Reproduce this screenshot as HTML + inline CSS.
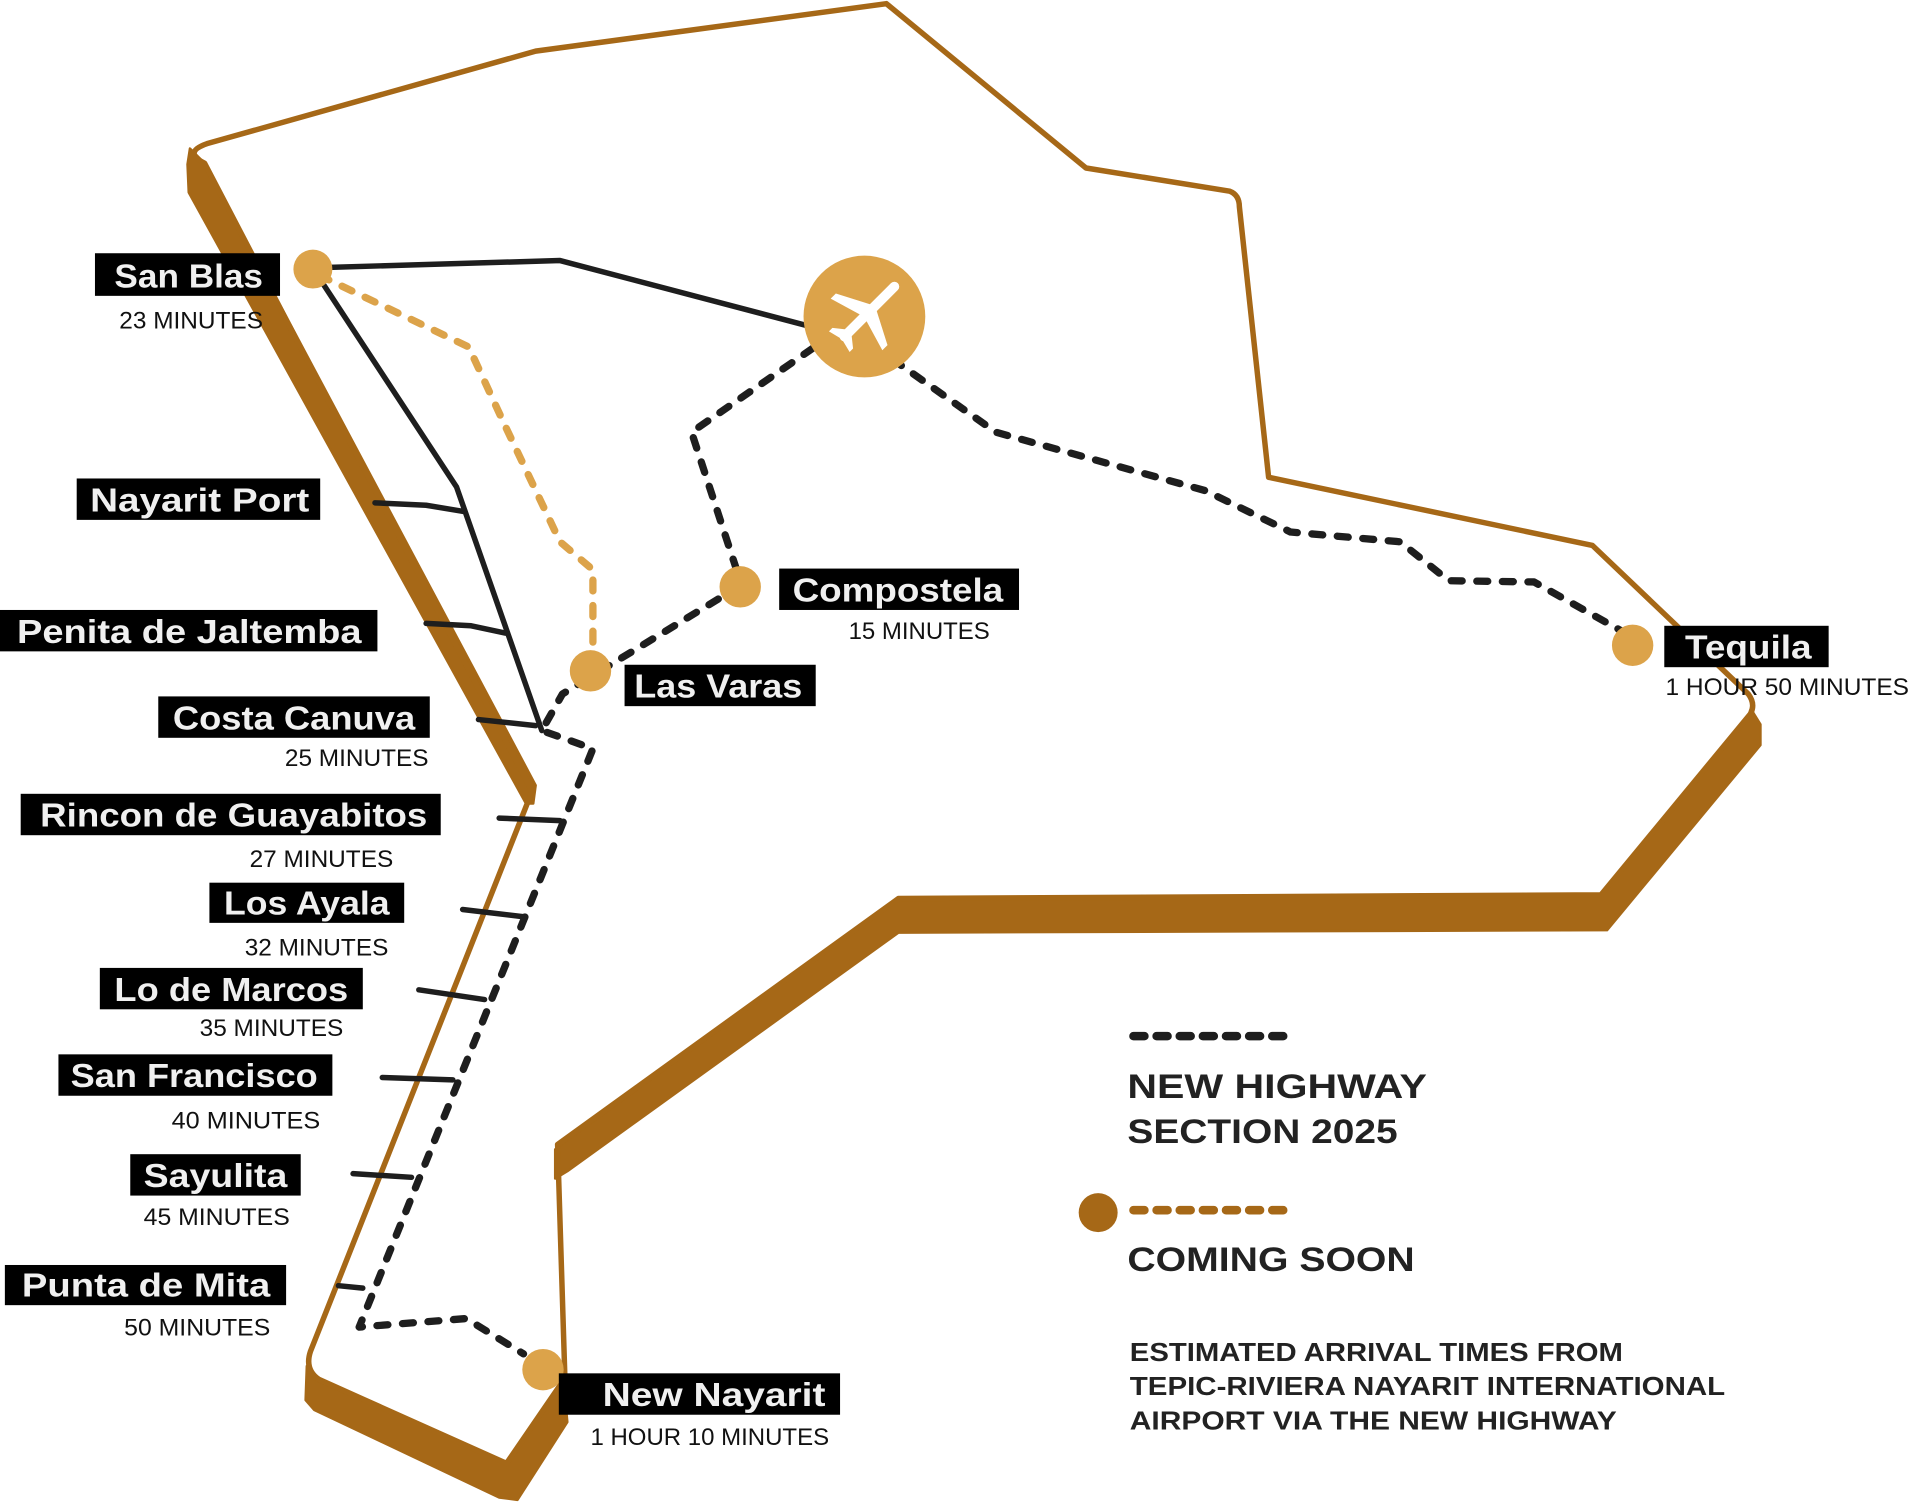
<!DOCTYPE html>
<html><head><meta charset="utf-8"><style>
html,body{margin:0;padding:0;background:#fff;}
svg{display:block;}
.lb{font-family:"Liberation Sans",sans-serif;font-weight:bold;fill:#f0f0f0;font-size:27px;}
.sm{font-family:"Liberation Sans",sans-serif;fill:#111;font-size:19.5px;}
.lg{font-family:"Liberation Sans",sans-serif;font-weight:bold;fill:#222;}
</style></head><body>
<svg width="1909" height="1503" viewBox="0 0 1568 1234.5" preserveAspectRatio="none" xmlns="http://www.w3.org/2000/svg">
<g fill="#A66817" stroke="#A66817" stroke-width="2" stroke-linejoin="round">
<polygon points="156,122 168,134 440,645 438,660 432,660 155,158 154,135"/>
<polygon points="1438,582 1446,595 1446,612 1320,764 738,766 466,962 456,968 456,944 738,738 1315,735 1436,588"/>
<polygon points="252,1122 258,1133 416,1202 463,1135 466,1168 425,1232 410,1230 258,1158 251,1150"/>
</g>
<path d="M170,118 L440,42 L728,3 L892,138 L1010,157 Q1018,160 1018,170 L1042,392 L1308,448 L1436,570 Q1442,578 1438,586 L1315,735 L738,738 L458,940 L464,1132 L416,1202 L262,1133 Q250,1125 255,1110 L437,650 L168,134 Q150,125 170,118 Z" fill="none" stroke="#A66817" stroke-width="4.5" stroke-linejoin="round"/>
<!-- black solid lines -->
<g fill="none" stroke="#1e1e1e" stroke-width="4.5" stroke-linecap="round" stroke-linejoin="round">
<path d="M257,220 L460,214 L665,268"/>
<path d="M262,228 L375,400 L445,600"/>
<path d="M308,413 L350,415 L380,420"/>
<path d="M350,512 L387,514 L415,520"/>
<path d="M393,591 L440,596"/>
<path d="M410,672 L460,674"/>
<path d="M380,747 L430,753"/>
<path d="M344,813 L398,821"/>
<path d="M314,885 L372,887"/>
<path d="M290,964 L338,967"/>
<path d="M278,1056 L298,1058"/>
</g>
<path d="M262,226 L385,285 L415,350 L460,445 L487,468 L487,545" fill="none" stroke="#DCA34A" stroke-width="6" stroke-dasharray="9 12" stroke-linecap="round"/>
<g fill="none" stroke="#1e1e1e" stroke-width="6" stroke-dasharray="9 12" stroke-linecap="round" stroke-linejoin="round">
<path d="M685,274 L568,355 L605,468"/>
<path d="M590,492 L462,570 L445,600 L487,615 L295,1090 L383,1083 L430,1112"/>
<path d="M733,295 L818,355 L990,403 L1060,437 L1150,445 L1190,477 L1260,478 L1335,520"/>
</g>
<g fill="#DCA34A">
<circle cx="257" cy="221" r="16"/>
<circle cx="608" cy="482" r="17"/>
<circle cx="485" cy="551" r="17"/>
<circle cx="1341" cy="530" r="17"/>
<circle cx="446" cy="1125" r="17"/>
<circle cx="710" cy="260" r="50"/>
</g>
<g transform="translate(712,258) rotate(45)" fill="#fff">
<rect x="-4" y="-36" width="8" height="66" rx="4"/>
<polygon points="-3,-8 -30,6 -30,12 -3,4"/>
<polygon points="3,-8 30,6 30,12 3,4"/>
<polygon points="-2,20 -12,28 -12,32 0,29 12,32 12,28 2,20"/>
</g>
<g>
<rect x="78" y="208" width="152" height="35" fill="#000"/><text class="lb" x="94" y="236" textLength="122" lengthAdjust="spacingAndGlyphs">San Blas</text>
<rect x="63" y="393" width="200" height="34" fill="#000"/><text class="lb" x="74" y="420" textLength="180" lengthAdjust="spacingAndGlyphs">Nayarit Port</text>
<rect x="0" y="501" width="310" height="34" fill="#000"/><text class="lb" x="14" y="528" textLength="283" lengthAdjust="spacingAndGlyphs">Penita de Jaltemba</text>
<rect x="130" y="572" width="223" height="34" fill="#000"/><text class="lb" x="142" y="599" textLength="199" lengthAdjust="spacingAndGlyphs">Costa Canuva</text>
<rect x="17" y="652" width="345" height="34" fill="#000"/><text class="lb" x="33" y="679" textLength="318" lengthAdjust="spacingAndGlyphs">Rincon de Guayabitos</text>
<rect x="172" y="725" width="160" height="33" fill="#000"/><text class="lb" x="184" y="751" textLength="136" lengthAdjust="spacingAndGlyphs">Los Ayala</text>
<rect x="82" y="795" width="216" height="34" fill="#000"/><text class="lb" x="94" y="822" textLength="192" lengthAdjust="spacingAndGlyphs">Lo de Marcos</text>
<rect x="48" y="866" width="225" height="34" fill="#000"/><text class="lb" x="58" y="893" textLength="203" lengthAdjust="spacingAndGlyphs">San Francisco</text>
<rect x="107" y="948" width="140" height="34" fill="#000"/><text class="lb" x="118" y="975" textLength="118" lengthAdjust="spacingAndGlyphs">Sayulita</text>
<rect x="4" y="1039" width="231" height="33" fill="#000"/><text class="lb" x="18" y="1065" textLength="204" lengthAdjust="spacingAndGlyphs">Punta de Mita</text>
<rect x="459" y="1128" width="231" height="34" fill="#000"/><text class="lb" x="495" y="1155" textLength="183" lengthAdjust="spacingAndGlyphs">New Nayarit</text>
<rect x="513" y="546" width="157" height="34" fill="#000"/><text class="lb" x="521" y="573" textLength="138" lengthAdjust="spacingAndGlyphs">Las Varas</text>
<rect x="640" y="467" width="197" height="34" fill="#000"/><text class="lb" x="651" y="494" textLength="173" lengthAdjust="spacingAndGlyphs">Compostela</text>
<rect x="1367" y="514" width="135" height="34" fill="#000"/><text class="lb" x="1384" y="541" textLength="104" lengthAdjust="spacingAndGlyphs">Tequila</text>
</g>
<g class="sm" text-anchor="middle">
<text x="157" y="270" textLength="118" lengthAdjust="spacingAndGlyphs">23 MINUTES</text>
<text x="755" y="525" textLength="116" lengthAdjust="spacingAndGlyphs">15 MINUTES</text>
<text x="293" y="629" textLength="118" lengthAdjust="spacingAndGlyphs">25 MINUTES</text>
<text x="264" y="712" textLength="118" lengthAdjust="spacingAndGlyphs">27 MINUTES</text>
<text x="260" y="785" textLength="118" lengthAdjust="spacingAndGlyphs">32 MINUTES</text>
<text x="223" y="851" textLength="118" lengthAdjust="spacingAndGlyphs">35 MINUTES</text>
<text x="202" y="927" textLength="122" lengthAdjust="spacingAndGlyphs">40 MINUTES</text>
<text x="178" y="1006" textLength="120" lengthAdjust="spacingAndGlyphs">45 MINUTES</text>
<text x="162" y="1097" textLength="120" lengthAdjust="spacingAndGlyphs">50 MINUTES</text>
<text x="583" y="1187" textLength="196" lengthAdjust="spacingAndGlyphs">1 HOUR 10 MINUTES</text>
<text x="1468" y="571" textLength="200" lengthAdjust="spacingAndGlyphs">1 HOUR 50 MINUTES</text>
</g>
<path d="M931,851 L1056,851" stroke="#1e1e1e" stroke-width="7" stroke-dasharray="9 10" stroke-linecap="round"/>
<text class="lg" x="926" y="902" font-size="28" textLength="246" lengthAdjust="spacingAndGlyphs">NEW HIGHWAY</text>
<text class="lg" x="926" y="939" font-size="28" textLength="222" lengthAdjust="spacingAndGlyphs">SECTION 2025</text>
<circle cx="902" cy="996" r="16" fill="#A66817"/>
<path d="M931,994 L1056,994" stroke="#A66817" stroke-width="7" stroke-dasharray="9 10" stroke-linecap="round"/>
<text class="lg" x="926" y="1044" font-size="28" textLength="236" lengthAdjust="spacingAndGlyphs">COMING SOON</text>
<text class="lg" x="928" y="1118" font-size="21" textLength="405" lengthAdjust="spacingAndGlyphs">ESTIMATED ARRIVAL TIMES FROM</text>
<text class="lg" x="928" y="1146" font-size="21" textLength="489" lengthAdjust="spacingAndGlyphs">TEPIC-RIVIERA NAYARIT INTERNATIONAL</text>
<text class="lg" x="928" y="1174" font-size="21" textLength="400" lengthAdjust="spacingAndGlyphs">AIRPORT VIA THE NEW HIGHWAY</text>
</svg>
</body></html>
